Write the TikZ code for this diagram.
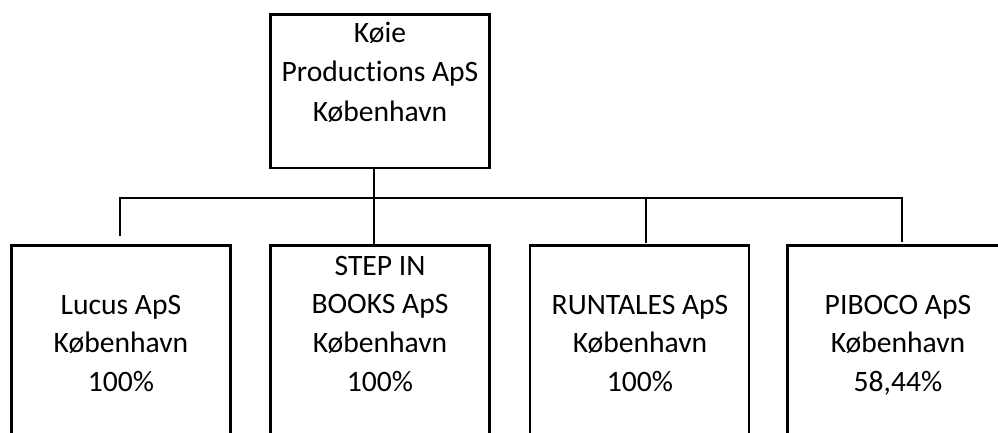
\documentclass[tikz,border=0pt]{standalone}
\usepackage{fontspec}
\setmainfont{Carlito}[Ligatures=NoCommon]
\begin{document}
\begin{tikzpicture}[x=1pt,y=-1pt,
  box/.style={draw, line width=2.7pt, minimum width=219pt, inner sep=0pt},
  txt/.style={align=center, inner sep=0pt, anchor=north, font=\fontsize{29.6}{38.7}\selectfont},
  conn/.style={line width=1.3pt}]
\clip (0,0) rectangle (998,432);
\fill[white] (0,0) rectangle (998,432);
% boxes
\node[box, minimum height=153.7pt] (top) at (380,91) {};
\node[box, minimum height=234.5pt] (lucus) at (121,362.75) {};
\node[box, minimum height=234.5pt] (step) at (379.75,362.75) {};
\node[box, minimum height=234.5pt] (runtales) at (639.5,362.75) {};
\node[box, minimum height=234.5pt] (piboco) at (897,362.75) {};
% texts
\node[txt, font=\fontsize{29.6}{39.2}\selectfont] (topT) at (380,18.5) {\rule{0pt}{24pt}Køie\\Productions ApS\\København};
\node[txt] (lucusT) at (121,290) {\rule{0pt}{24pt}Lucus ApS\\København\\100\%};
\node[txt] (stepT) at (380,251) {\rule{0pt}{24pt}STEP IN\\BOOKS ApS\\København\\100\%};
\node[txt] (runtalesT) at (640,290) {\rule{0pt}{24pt}RUNTALES ApS\\København\\100\%};
\node[txt] (pibocoT) at (898,290) {\rule{0pt}{24pt}PIBOCO ApS\\København\\58,44\%};
% connectors
\coordinate (bus) at (374,198);
\coordinate (busL) at (120,198);
\coordinate (busM) at (646,198);
\coordinate (busR) at (902,198);
\coordinate (endL) at (120,236);
\coordinate (endM) at (646,243);
\coordinate (endR) at (902,242);
\draw[conn] (top.south -| bus) -- (step.north -| bus);
\draw[conn] (endL) -- (busL) -- (busR) -- (endR);
\draw[conn] (busM) -- (endM);
\end{tikzpicture}
\end{document}
